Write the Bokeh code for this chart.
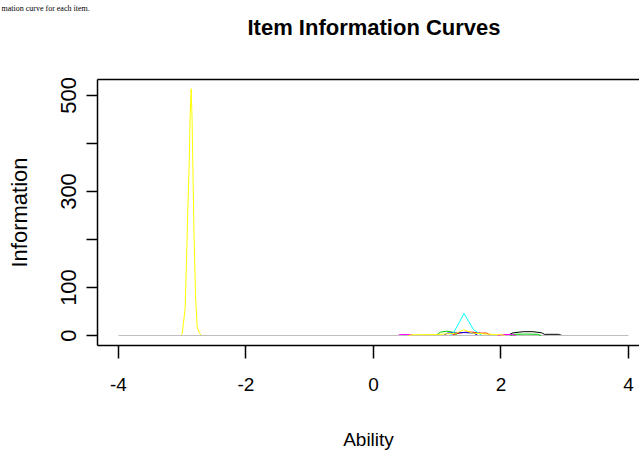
from bokeh.plotting import figure
from bokeh.models import LinearAxis, FixedTicker, Range1d, Title
from bokeh.embed import file_html
from bokeh.resources import INLINE

# ---------------- data ----------------
TITLE = "Item Information Curves"
X_LABEL = "Ability"
Y_LABEL = "Information"
CAPTION_FRAGMENT = "mation curve for each item."
X_TICKS = [-4, -2, 0, 2, 4]
X_TICK_LABELS = {-4: "-4", -2: "-2", 0: "0", 2: "2", 4: "4"}
Y_TICKS = [0, 100, 200, 300, 400, 500]
Y_TICK_LABELS = {0: "0", 100: "100", 200: "", 300: "300", 400: "", 500: "500"}

# R default palette colours
BLACK = "#000000"
RED = "#FF0000"
GREEN3 = "#00CD00"
BLUE = "#0000FF"
CYAN = "#00FFFF"
MAGENTA = "#FF00FF"
YELLOW = "#FFFF00"
GRAY = "#BEBEBE"

item1_ability = [2.10, 2.19, 2.35, 2.50, 2.64, 2.68, 2.90, 2.96]
item1_info = [0, 5.6, 8, 8, 5.6, 2.5, 2.5, 0]

item2_ability = [1.22, 1.30, 1.45, 1.55, 1.69, 1.78, 1.84]
item2_info = [0, 4, 7, 7, 5, 5, 0]

item3_ability = [0.98, 1.05, 1.15, 1.24, 1.32]
item3_info = [0, 7, 9, 7, 0]

item4_ability = [1.10, 1.16, 1.30, 1.45, 1.57, 1.64]
item4_info = [0, 5, 6, 6, 5, 0]

item5_ability = [1.20, 1.26, 1.34, 1.42, 1.50, 1.57, 1.64, 1.70]
item5_info = [0, 7, 26, 46, 28, 12, 6, 0]

item6_ability = [0.38, 0.42, 0.58, 0.64]
item6_info = [0, 2, 2, 0]

item7_ability = [-3.03, -3.00, -2.954, -2.933, -2.913, -2.891, -2.875, -2.860,
                 -2.845, -2.830, -2.814, -2.790, -2.765, -2.725, -2.70]
item7_info = [0, 4, 56, 156, 260, 358, 462, 514, 448, 329, 204, 79, 17, 4, 0]

item8_ability = [-4.0, 4.0]
item8_info = [0, 0]

item11_ability = [2.15, 2.22, 2.40, 2.57, 2.63]
item11_info = [0, 2.5, 3, 2.5, 0]

item14_ability = [1.95, 2.02, 2.17, 2.23]
item14_info = [0, 2, 2, 0]

item15_ability = [0.55, 0.60, 1.00, 1.30, 1.42, 1.55, 1.90, 2.02, 2.06]
item15_info = [0, 1.5, 2, 5, 12, 5, 2, 1.5, 0]

ITEMS = [
    (item1_ability, item1_info, BLACK),
    (item2_ability, item2_info, RED),
    (item3_ability, item3_info, GREEN3),
    (item4_ability, item4_info, BLUE),
    (item5_ability, item5_info, CYAN),
    (item6_ability, item6_info, MAGENTA),
    (item7_ability, item7_info, YELLOW),
    (item8_ability, item8_info, GRAY),
    (item11_ability, item11_info, GREEN3),
    (item14_ability, item14_info, MAGENTA),
    (item15_ability, item15_info, YELLOW),
]

# ---------------- figure ----------------
SANS = "'Liberation Sans', Arial, sans-serif"

p = figure(
    width=639, height=452,
    x_range=Range1d(-4.329, 4.173), y_range=Range1d(-20.8, 533.3),
    output_backend="svg", toolbar_location=None,
    min_border_left=97, min_border_right=0, min_border_top=79, min_border_bottom=107,
    background_fill_color="white", border_fill_color="white",
)
p.outline_line_color = None
p.grid.visible = False

for ab, info, col in ITEMS:
    p.line(ab, info, line_color=col, line_width=1)

# x axis
xa = p.xaxis[0]
xa.ticker = FixedTicker(ticks=X_TICKS)
xa.major_label_overrides = X_TICK_LABELS
xa.axis_label = X_LABEL
xa.major_tick_out = 13
xa.major_tick_in = 0
xa.minor_tick_out = 0
xa.minor_tick_in = 0
xa.axis_line_width = 1.5
xa.major_tick_line_width = 1.5
xa.axis_line_color = "black"
xa.major_tick_line_color = "black"
xa.major_label_text_font = SANS
xa.major_label_text_font_size = "19px"
xa.major_label_text_color = "black"
xa.major_label_standoff = 19
xa.axis_label_text_font = SANS
xa.axis_label_text_font_size = "19px"
xa.axis_label_text_font_style = "normal"
xa.axis_label_text_color = "black"
xa.axis_label_standoff = 35

# y axis
ya = p.yaxis[0]
ya.ticker = FixedTicker(ticks=Y_TICKS)
ya.major_label_overrides = Y_TICK_LABELS
ya.axis_label = Y_LABEL
ya.major_tick_out = 11
ya.major_tick_in = 0
ya.minor_tick_out = 0
ya.minor_tick_in = 0
ya.axis_line_width = 1.5
ya.major_tick_line_width = 1.5
ya.axis_line_color = "black"
ya.major_tick_line_color = "black"
ya.major_label_orientation = "vertical"
ya.major_label_text_font = SANS
ya.major_label_text_font_size = "22px"
ya.major_label_text_color = "black"
ya.major_label_standoff = 10
ya.axis_label_text_font = SANS
ya.axis_label_text_font_size = "22px"
ya.axis_label_text_font_style = "normal"
ya.axis_label_text_color = "black"
ya.axis_label_standoff = 27

# top edge of the box
top = LinearAxis(ticker=FixedTicker(ticks=[]), major_tick_out=0, major_tick_in=0,
                 minor_tick_out=0, minor_tick_in=0, axis_line_width=1.5,
                 axis_line_color="black", major_label_text_font_size="0px",
                 major_label_standoff=0, axis_label_standoff=0)
p.add_layout(top, "above")

# blank spacer between the box and the title
spacer = Title(text=" ", standoff=27, text_font=SANS, text_font_size="10px",
               text_color="white")
p.add_layout(spacer, "above")

# main title
main_title = Title(text=TITLE, align="left", offset=150, standoff=0,
                   text_font=SANS, text_font_style="bold", text_font_size="22px",
                   text_color="black")
p.add_layout(main_title, "above")

# fragment of the surrounding document's text, outermost at the top edge
p.title.text = CAPTION_FRAGMENT
p.title.align = "left"
p.title.offset = -96
p.title.standoff = 0
p.title.text_font = "'Liberation Serif', serif"
p.title.text_font_size = "8px"
p.title.text_font_style = "normal"
p.title.text_color = "black"

open("out.html", "w").write(file_html(p, INLINE))
